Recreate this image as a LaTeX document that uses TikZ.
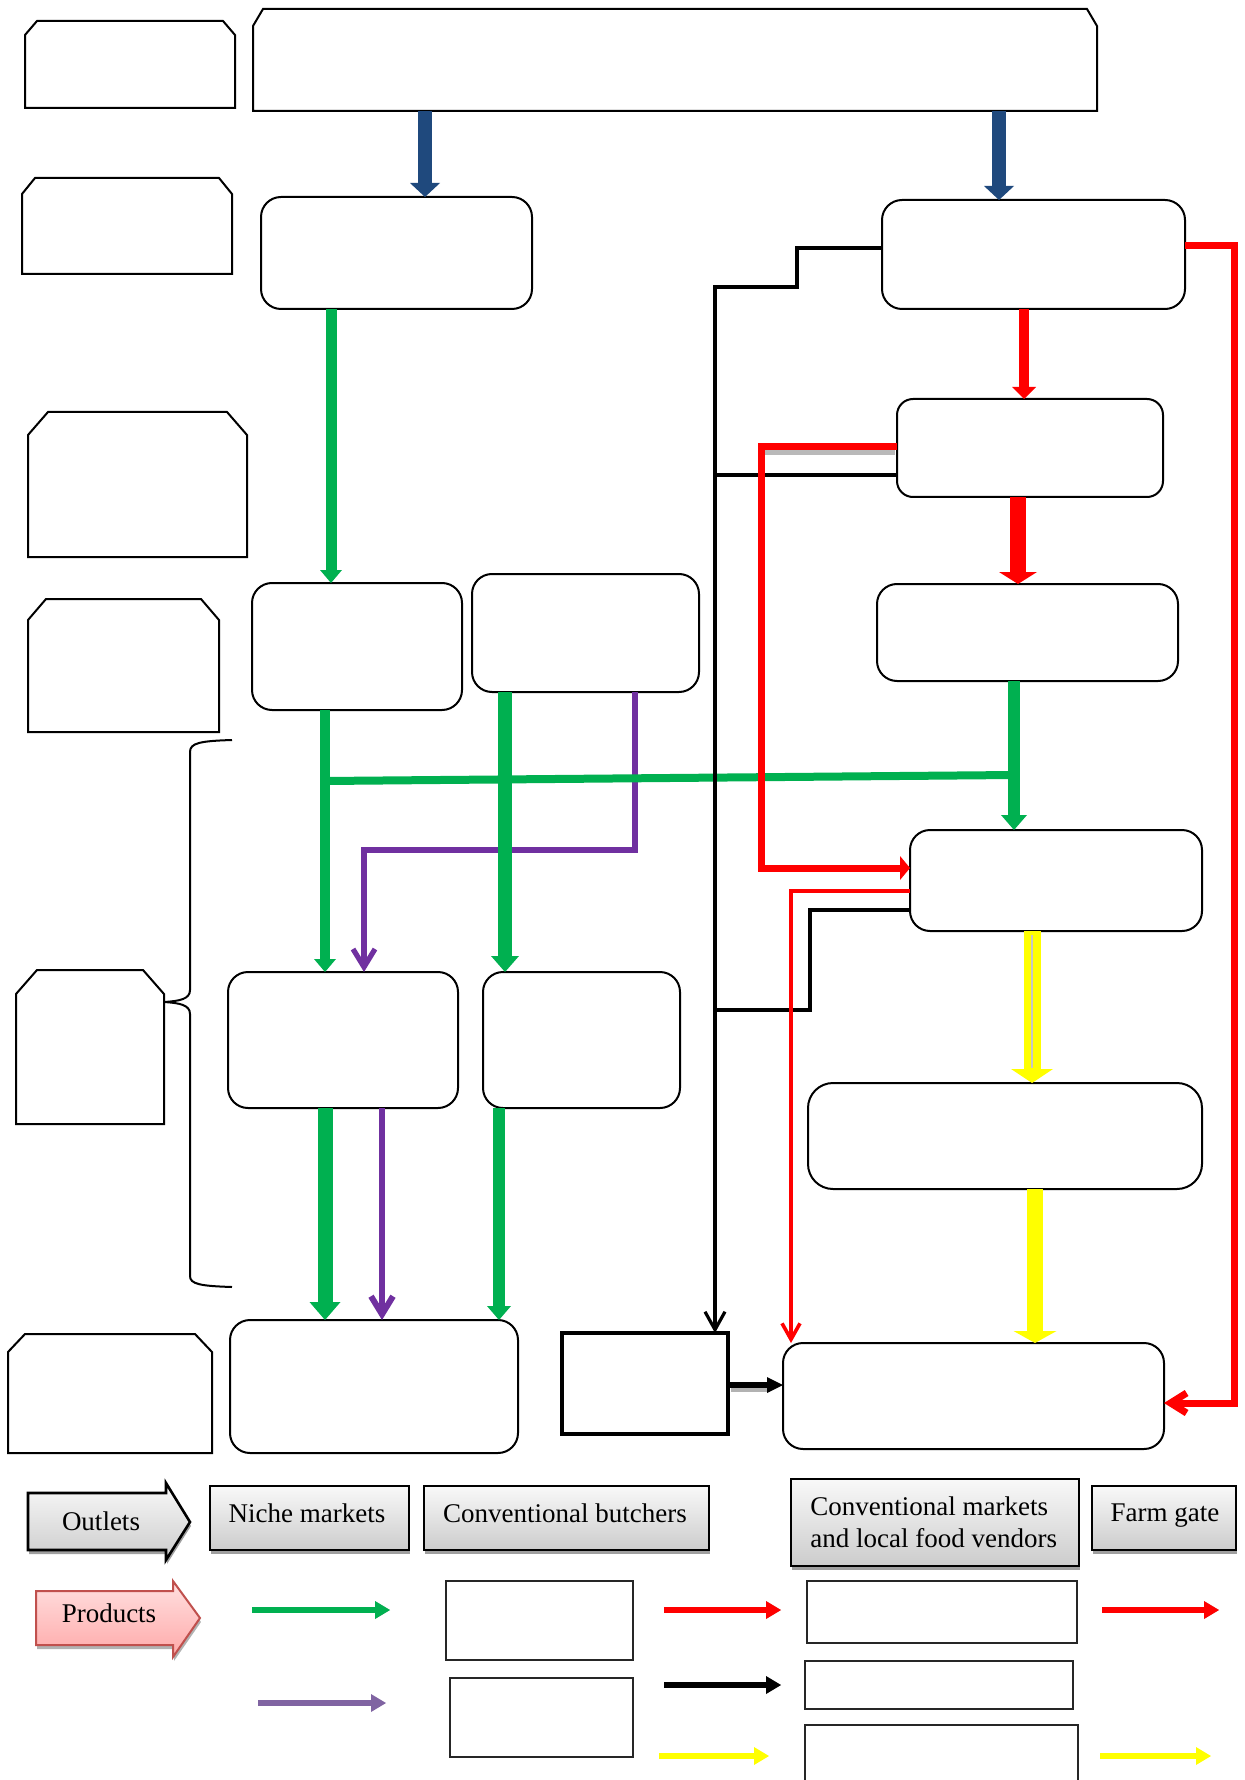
\documentclass[tikz,border=0pt]{standalone}
\usepackage{fontspec}
\setmainfont{Liberation Serif}
\usetikzlibrary{arrows.meta,fit,shadows}

\definecolor{cgreen}{HTML}{00B050}
\definecolor{cred}{HTML}{FF0000}
\definecolor{cblue}{HTML}{1F497D}
\definecolor{cpurple}{HTML}{7030A0}
\definecolor{clpurple}{HTML}{8064A2}
\definecolor{cyellow}{HTML}{FFFF00}
\definecolor{pinkborder}{HTML}{C0504D}
\definecolor{pinktop}{HTML}{FFE0E0}
\definecolor{pinkbot}{HTML}{FFA9A9}

\newcommand{\chamf}[3]{\draw[cbox] (#1.south west) -- ([yshift=-#3]#1.north west) -- ([xshift=#2]#1.north west) -- ([xshift=-#2]#1.north east) -- ([yshift=-#3]#1.north east) -- (#1.south east) -- cycle;}

\tikzset{
 rbox/.style={draw, line width=1pt, rounded corners=10pt, inner sep=0pt, outer sep=0pt},
 hold/.style={inner sep=0pt, outer sep=0pt},
 cbox/.style={draw, line width=1pt},
 thickrect/.style={draw, line width=2.2pt, inner sep=0pt, outer sep=0pt},
 legbox/.style={draw=black, line width=1.3pt, inner sep=0pt, outer sep=0pt, top color=gray!5, bottom color=gray!40,
   drop shadow={shadow xshift=0.5pt, shadow yshift=-2pt, fill=gray!75, opacity=1}},
 emptybox/.style={draw=black!85, line width=1pt, inner sep=0pt, outer sep=0pt},
 lab/.style={font=\fontsize{13.5pt}{16pt}\selectfont, inner sep=0pt},
 blueflow/.style={draw=cblue, line width=7pt, -{Triangle[width=15pt,length=7pt,line width=0pt]}},
 blackline/.style={draw=black, line width=1.6pt},
 blackbarb/.style={draw=black, line width=1.6pt, -{Straight Barb[length=9pt,width=10pt]}},
 purplebarb/.style={draw=cpurple, line width=2.6pt, -{Straight Barb[length=9pt,width=11pt]}},
 redbarb/.style={draw=cred, line width=3.5pt, -{Straight Barb[length=8pt,width=10pt]}},
 thinredbarb/.style={draw=cred, line width=1.8pt, -{Straight Barb[length=8pt,width=9pt]}},
 legarrow/.style={line width=2.6pt, -{Triangle[width=9pt,length=7.5pt,line width=0pt]}},
}

\begin{document}
\begin{tikzpicture}[x=0.5pt,y=-0.5pt]
\useasboundingbox (0,0) rectangle (1245,1780);

% ---------- level (chamfered) boxes ----------
\node[hold, fit={(253,9) (1097,111)}] (T) {};
\chamf{T}{5pt}{8.5pt}
\node[hold, fit={(25,21) (235,108)}] (L1) {};
\chamf{L1}{6pt}{7pt}
\node[hold, fit={(22,178) (232,274)}] (L2) {};
\chamf{L2}{6.5pt}{8pt}
\node[hold, fit={(28,412) (247,557)}] (L3) {};
\chamf{L3}{10pt}{11.5pt}
\node[hold, fit={(28,599) (219,732)}] (L4) {};
\chamf{L4}{9pt}{10.5pt}
\node[hold, fit={(16,970) (164,1124)}] (L5) {};
\chamf{L5}{10.5pt}{12pt}
\node[hold, fit={(8,1334) (212,1453)}] (L6) {};
\chamf{L6}{8.5pt}{9pt}

% brace
\draw[line width=1pt] (232,740) .. controls (200,741) and (190,743) .. (190,752) -- (190,990)
  .. controls (190,999) and (180,1001) .. (164,1002)
  .. controls (180,1003) and (190,1005) .. (190,1014) -- (190,1276)
  .. controls (190,1284) and (200,1286) .. (232,1287);

% ---------- rounded boxes ----------
\node[rbox, fit={(261,197) (532,309)}] (B1) {};
\node[rbox, fit={(882,200) (1185,309)}] (B2) {};
\node[rbox, rounded corners=8pt, fit={(897,399) (1163,497)}] (B3) {};
\node[rbox, fit={(877,584) (1178,681)}] (B4) {};
\node[rbox, fit={(252,583) (462,710)}] (B5) {};
\node[rbox, fit={(472,574) (699,692)}] (B6) {};
\node[rbox, fit={(910,830) (1202,931)}] (B7) {};
\node[rbox, fit={(228,972) (458,1108)}] (B8) {};
\node[rbox, fit={(483,972) (680,1108)}] (B9) {};
\node[rbox, rounded corners=12.5pt, fit={(808,1083) (1202,1189)}] (B10) {};
\node[rbox, fit={(230,1320) (518,1453)}] (B11) {};
\node[thickrect, fit={(562,1333) (728,1434)}] (B12) {};
\node[rbox, fit={(783,1343) (1164,1449)}] (B13) {};

% ---------- connectors ----------
% blue
\draw[blueflow] (425,0 |- T.south) -- (425,0 |- B1.north);
\draw[blueflow] (999,0 |- T.south) -- (999,0 |- B2.north);

% purple
\draw[purplebarb] (635,0 |- B6.south) -- (635,850) -- (364,850) -- (364,0 |- B8.north);
\draw[draw=cpurple, line width=3pt, -{Straight Barb[length=9pt,width=11pt]}] (382,0 |- B8.south) -- (382,0 |- B11.north);

% green
\draw[draw=cgreen, line width=5.5pt, -{Triangle[width=11pt,length=6.5pt,line width=0pt]}] (331,0 |- B1.south) -- (331,0 |- B5.north);
\coordinate (gl) at (325,781);
\coordinate (gr) at (1014,775);
\draw[draw=cgreen, line width=4pt] (gl) -- (gr);
\draw[draw=cgreen, line width=6pt, -{Triangle[width=13pt,length=7.5pt,line width=0pt]}] (1014,0 |- B4.south) -- (1014,0 |- B7.north);
\draw[draw=cgreen, line width=5pt, -{Triangle[width=11pt,length=6.5pt,line width=0pt]}] (325,0 |- B5.south) -- (325,0 |- B8.north);
\draw[draw=cgreen, line width=7pt, -{Triangle[width=14pt,length=8pt,line width=0pt]}] (505,0 |- B6.south) -- (505,0 |- B9.north);
\draw[draw=cgreen, line width=7.5pt, -{Triangle[width=15.5pt,length=9pt,line width=0pt]}] (325,0 |- B8.south) -- (325,0 |- B11.north);
\draw[draw=cgreen, line width=6pt, -{Triangle[width=12pt,length=7pt,line width=0pt]}] (499,0 |- B9.south) -- (499,0 |- B11.north);

% black
\draw[blackbarb] (B2.west |- 0,248) -- (797,248) -- (797,287) -- (715,287) -- (715,0 |- B12.north);
\draw[blackline] (B3.west |- 0,475) -- (715,475);
\draw[draw=black, line width=2pt] (B7.west |- 0,910) -- (810,910) -- (810,1010) -- (715,1010);
\draw[draw=gray!60, line width=3pt] (731,1389) -- (770,1389);
\draw[draw=black, line width=3pt, -{Triangle[width=8pt,length=8pt,line width=0pt]}] (B12.east |- 0,1385) -- (B13.west |- 0,1385);

% red
\draw[draw=gray!55, line width=3.5pt] (759,452) -- (895,452);
\draw[draw=cred, line width=3.5pt, -{Triangle[width=12pt,length=5pt,line width=0pt]}] (B3.west |- 0,447) -- (761,447) -- (761,868) -- (B7.west |- 0,868);
\draw[thinredbarb] (B7.west |- 0,891) -- (791,891) -- (791,0 |- B13.north);
\draw[draw=cred, line width=5pt, -{Triangle[width=12pt,length=6pt,line width=0pt]}] (1024,0 |- B2.south) -- (1024,0 |- B3.north);
\draw[draw=cred, line width=8pt, -{Triangle[width=19pt,length=6pt,line width=0pt]}] (1018,0 |- B3.south) -- (1018,0 |- B4.north);
\draw[redbarb] (B2.east |- 0,246) -- (1234,246) -- (1234,1403) -- (B13.east |- 0,1403);

% yellow
\draw[draw=cyellow, line width=8.5pt, -{Triangle[width=21pt,length=7pt,line width=0pt]}] (1032,0 |- B7.south) -- (1032,0 |- B10.north);
\draw[draw=gray!45, line width=0.6pt] (1032,935) -- (1032,1068);
\draw[draw=cyellow, line width=8pt, -{Triangle[width=21.5pt,length=6pt,line width=0pt]}] (1035,0 |- B10.south) -- (1035,0 |- B13.north);

% ---------- legend ----------
\draw[draw=black, line width=1.3pt, top color=gray!5, bottom color=gray!40,
   drop shadow={shadow xshift=0.5pt, shadow yshift=-2pt, fill=gray!75, opacity=1}]
  (28,1493) -- (166,1493) -- (166,1483) -- (190,1522) -- (166,1560) -- (166,1550) -- (28,1550) -- cycle;
\node[lab] (toutlets) at (101,1521) {Outlets};

\draw[draw=pinkborder, line width=1pt, top color=pinktop, bottom color=pinkbot,
   drop shadow={shadow xshift=0.5pt, shadow yshift=-2pt, fill=gray!60, opacity=1}]
  (36,1591) -- (173,1591) -- (173,1581) -- (200,1618) -- (173,1657) -- (173,1645) -- (36,1645) -- cycle;
\node[lab] (tproducts) at (109,1613) {Products};

\node[legbox, fit={(210,1486) (409,1550)}] (LN) {};
\node[lab] (tniche) at (307,1513) {Niche markets};
\node[legbox, fit={(424,1486) (709,1550)}] (LB) {};
\node[lab] (tbutch) at (565,1513) {Conventional butchers};
\node[legbox, fit={(791,1479) (1079,1566)}] (LM) {};
\node[lab, align=left, anchor=west] (tmark) at (810,1522) {Conventional markets\\and local food vendors};
\node[legbox, fit={(1092,1486) (1236,1550)}] (LF) {};
\node[lab] (tfarm) at (1165,1516) {Farm gate};

\node[emptybox, fit={(446,1581) (633,1660)}] (E1) {};
\node[emptybox, fit={(450,1678) (633,1757)}] (E2) {};
\node[emptybox, fit={(807,1581) (1077,1643)}] (E3) {};
\node[emptybox, fit={(805,1661) (1073,1709)}] (E4) {};
\node[emptybox, fit={(805,1725) (1078,1800)}] (E5) {};

% legend arrows
\coordinate (ga1) at (252,1610); \coordinate (ga2) at (390,1610);
\coordinate (pa1) at (258,1703); \coordinate (pa2) at (386,1703);
\coordinate (ra1) at (664,1610); \coordinate (ra2) at (781,1610);
\coordinate (ka1) at (664,1685); \coordinate (ka2) at (781,1685);
\coordinate (ya1) at (659,1756); \coordinate (ya2) at (769,1756);
\coordinate (rb1) at (1102,1610); \coordinate (rb2) at (1219,1610);
\coordinate (yb1) at (1100,1756); \coordinate (yb2) at (1211,1756);

\begin{scope}[shift={(1.5,4)}]
\draw[legarrow, gray!55] (ga1) -- (ga2);
\draw[legarrow, gray!55] (ra1) -- (ra2);
\draw[legarrow, gray!55] (ka1) -- (ka2);
\draw[legarrow, gray!55] (rb1) -- (rb2);
\end{scope}
\draw[legarrow, cgreen] (ga1) -- (ga2);
\draw[legarrow, clpurple] (pa1) -- (pa2);
\draw[legarrow, cred] (ra1) -- (ra2);
\draw[legarrow, black] (ka1) -- (ka2);
\draw[legarrow, cyellow] (ya1) -- (ya2);
\draw[legarrow, cred] (rb1) -- (rb2);
\draw[legarrow, cyellow] (yb1) -- (yb2);
\end{tikzpicture}
\end{document}
